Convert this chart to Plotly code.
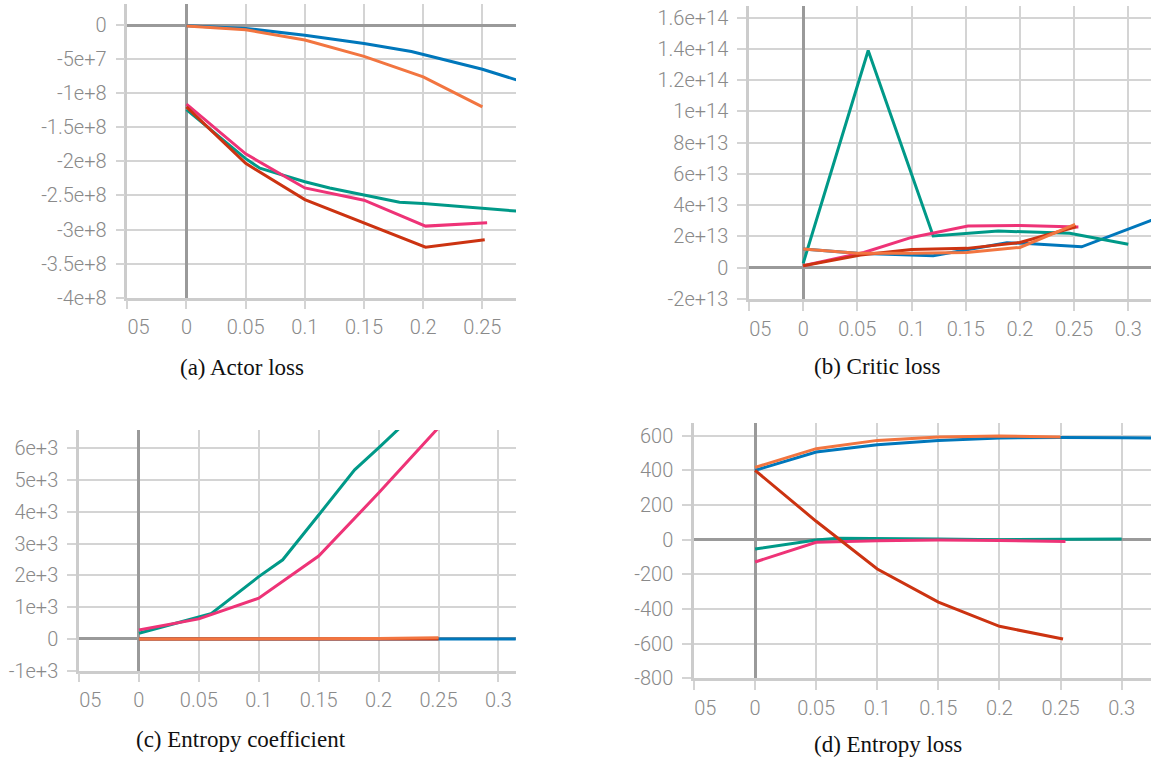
import plotly.graph_objects as go

# ---------------- data ----------------
SERIES = ["blue", "green", "pink", "red", "orange"]
COLORS = {"blue": "#0077bb", "orange": "#f27540", "green": "#009988",
          "pink": "#ee3377", "red": "#cc3311"}

# (a) Actor loss
A_BLUE_X = [0, 0.05, 0.1, 0.15, 0.19, 0.25, 0.3]
A_BLUE_Y = [-1e6, -5e6, -1.5e7, -2.7e7, -3.9e7, -6.5e7, -9.2e7]
A_ORANGE_X = [0, 0.05, 0.1, 0.15, 0.2, 0.25]
A_ORANGE_Y = [-1.5e6, -7e6, -2.2e7, -4.6e7, -7.6e7, -1.2e8]
A_GREEN_X = [0, 0.05, 0.062, 0.1, 0.121, 0.15, 0.18, 0.2, 0.25, 0.3]
A_GREEN_Y = [-1.24e8, -1.96e8, -2.1e8, -2.3e8, -2.39e8, -2.49e8, -2.6e8, -2.62e8, -2.69e8, -2.76e8]
A_PINK_X = [0, 0.05, 0.1, 0.15, 0.202, 0.254]
A_PINK_Y = [-1.16e8, -1.89e8, -2.39e8, -2.57e8, -2.95e8, -2.9e8]
A_RED_X = [0, 0.05, 0.1, 0.15, 0.202, 0.252]
A_RED_Y = [-1.2e8, -2.03e8, -2.56e8, -2.9e8, -3.26e8, -3.15e8]

# (b) Critic loss
B_BLUE_X = [0, 0.05, 0.12, 0.151, 0.188, 0.203, 0.257, 0.32, 0.35]
B_BLUE_Y = [1.2e13, 9.2e12, 7.7e12, 1.13e13, 1.6e13, 1.56e13, 1.34e13, 3.0e13, 3.8e13]
B_GREEN_X = [0, 0.06, 0.12, 0.18, 0.246, 0.3]
B_GREEN_Y = [2.8e12, 1.39e14, 2.03e13, 2.35e13, 2.2e13, 1.5e13]
B_PINK_X = [0, 0.056, 0.1, 0.152, 0.2, 0.254]
B_PINK_Y = [1.3e12, 9.8e12, 1.94e13, 2.67e13, 2.7e13, 2.6e13]
B_RED_X = [0, 0.053, 0.1, 0.151, 0.2, 0.252]
B_RED_Y = [1.3e12, 8.1e12, 1.17e13, 1.24e13, 1.62e13, 2.62e13]
B_ORANGE_X = [0, 0.05, 0.1, 0.151, 0.2, 0.251]
B_ORANGE_Y = [1.2e13, 9.2e12, 9.2e12, 9.8e12, 1.3e13, 2.77e13]

# (c) Entropy coefficient
C_BLUE_X = [0, 0.05, 0.1, 0.15, 0.2, 0.25, 0.3, 0.35]
C_BLUE_Y = [0, 0, 0, 0, 0, 0, 0, 0]
C_GREEN_X = [0, 0.06, 0.1, 0.12, 0.15, 0.18, 0.2, 0.25]
C_GREEN_Y = [180, 790, 1960, 2490, 3900, 5320, 6010, 7800]
C_PINK_X = [0, 0.05, 0.1, 0.15, 0.2, 0.25]
C_PINK_Y = [280, 630, 1280, 2610, 4590, 6650]
C_RED_X = [0, 0.05, 0.1, 0.15, 0.2, 0.25]
C_RED_Y = [0, 0, 0, 0, 0, 0]
C_ORANGE_X = [0, 0.05, 0.1, 0.15, 0.2, 0.25]
C_ORANGE_Y = [0, 0, 0, 0, 10, 40]

# (d) Entropy loss
D_BLUE_X = [0, 0.05, 0.1, 0.15, 0.2, 0.25, 0.3, 0.35]
D_BLUE_Y = [400, 506, 548, 573, 587, 590, 588, 586]
D_GREEN_X = [0, 0.05, 0.068, 0.1, 0.15, 0.2, 0.25, 0.3]
D_GREEN_Y = [-54, -2, 8, 8, 4, 0, 0, 4]
D_PINK_X = [0, 0.05, 0.1, 0.15, 0.2, 0.254]
D_PINK_Y = [-129, -15, -6, -2, -5, -10]
D_RED_X = [0, 0.05, 0.1, 0.15, 0.2, 0.252]
D_RED_Y = [400, 106, -169, -360, -500, -573]
D_ORANGE_X = [0, 0.05, 0.1, 0.15, 0.2, 0.25]
D_ORANGE_Y = [417, 525, 573, 592, 598, 592]

X_TICK_VALS = [-0.05, 0, 0.05, 0.1, 0.15, 0.2, 0.25, 0.3]
X_TICK_TEXT = ["\u2007\u200705", "0", "0.05", "0.1", "0.15", "0.2", "0.25", "0.3"]

A_Y_TICK_VALS = [0, -5e7, -1e8, -1.5e8, -2e8, -2.5e8, -3e8, -3.5e8, -4e8]
A_Y_TICK_TEXT = ["0", "-5e+7", "-1e+8", "-1.5e+8", "-2e+8", "-2.5e+8", "-3e+8", "-3.5e+8", "-4e+8"]
B_Y_TICK_VALS = [-2e13, 0, 2e13, 4e13, 6e13, 8e13, 1e14, 1.2e14, 1.4e14, 1.6e14]
B_Y_TICK_TEXT = ["-2e+13", "0", "2e+13", "4e+13", "6e+13", "8e+13", "1e+14", "1.2e+14", "1.4e+14", "1.6e+14"]
C_Y_TICK_VALS = [-1e3, 0, 1e3, 2e3, 3e3, 4e3, 5e3, 6e3]
C_Y_TICK_TEXT = ["-1e+3", "0", "1e+3", "2e+3", "3e+3", "4e+3", "5e+3", "6e+3"]
D_Y_TICK_VALS = [-800, -600, -400, -200, 0, 200, 400, 600]
D_Y_TICK_TEXT = ["-800", "-600", "-400", "-200", "0", "200", "400", "600"]

CAPTIONS = ["(a) Actor loss", "(b) Critic loss", "(c) Entropy coefficient", "(d) Entropy loss"]

# ---------------- layout helpers ----------------
W, H = 1156, 758

def px_dom_x(l, r):
    return [l / W, r / W]

def px_dom_y(top, bottom):
    return [1 - bottom / H, 1 - top / H]

GRID = "#d4d4d4"
ZERO = "#9a9a9a"
TICKFONT = dict(family="Roboto Light, Roboto", size=20, color="#8a8a8a", weight=300)

def xaxis(dom, rng, anchor):
    return dict(domain=dom, range=rng, anchor=anchor, tickmode="array",
                tickvals=X_TICK_VALS, ticktext=X_TICK_TEXT, automargin=False,
                showgrid=True, gridcolor=GRID, gridwidth=1.5,
                zeroline=True, zerolinecolor=ZERO, zerolinewidth=3,
                showline=True, linecolor="#cccccc", linewidth=2.5,
                ticks="outside", ticklen=9, tickwidth=1.5, tickcolor=GRID,
                tickfont=TICKFONT, ticklabelstandoff=1, fixedrange=True)

def yaxis(dom, rng, anchor, vals, text):
    return dict(domain=dom, range=rng, anchor=anchor, tickmode="array",
                tickvals=vals, ticktext=text, automargin=False,
                showgrid=True, gridcolor=GRID, gridwidth=1.5,
                zeroline=True, zerolinecolor=ZERO, zerolinewidth=3,
                showline=True, linecolor="#cccccc", linewidth=2.5,
                ticks="outside", ticklen=9, tickwidth=1.5, tickcolor=GRID,
                tickfont=TICKFONT, ticklabelstandoff=5, fixedrange=True)

fig = go.Figure()

panels = [
    ("x", "y", {"blue": (A_BLUE_X, A_BLUE_Y), "green": (A_GREEN_X, A_GREEN_Y),
                "pink": (A_PINK_X, A_PINK_Y), "red": (A_RED_X, A_RED_Y),
                "orange": (A_ORANGE_X, A_ORANGE_Y)}),
    ("x2", "y2", {"blue": (B_BLUE_X, B_BLUE_Y), "green": (B_GREEN_X, B_GREEN_Y),
                  "pink": (B_PINK_X, B_PINK_Y), "red": (B_RED_X, B_RED_Y),
                  "orange": (B_ORANGE_X, B_ORANGE_Y)}),
    ("x3", "y3", {"blue": (C_BLUE_X, C_BLUE_Y), "green": (C_GREEN_X, C_GREEN_Y),
                  "red": (C_RED_X, C_RED_Y), "pink": (C_PINK_X, C_PINK_Y),
                  "orange": (C_ORANGE_X, C_ORANGE_Y)}),
    ("x4", "y4", {"blue": (D_BLUE_X, D_BLUE_Y), "green": (D_GREEN_X, D_GREEN_Y),
                  "pink": (D_PINK_X, D_PINK_Y), "red": (D_RED_X, D_RED_Y),
                  "orange": (D_ORANGE_X, D_ORANGE_Y)}),
]

for xa, ya, series in panels:
    for name in SERIES:
        if name not in series:
            continue
        xs, ys = series[name]
        fig.add_trace(go.Scatter(x=xs, y=ys, mode="lines", xaxis=xa, yaxis=ya,
                                 line=dict(color=COLORS[name], width=3),
                                 showlegend=False, hoverinfo="skip"))

fig.update_layout(
    width=W, height=H, margin=dict(l=0, r=0, t=0, b=0, autoexpand=False),
    paper_bgcolor="white", plot_bgcolor="white", showlegend=False,
    xaxis=xaxis(px_dom_x(127.3, 516), [-0.05, 0.2784], "y"),
    yaxis=yaxis(px_dom_y(4, 297.7), [-4e8, 3.08e7], "x", A_Y_TICK_VALS, A_Y_TICK_TEXT),
    xaxis2=xaxis(px_dom_x(749, 1151), [-0.05, 0.321], "y2"),
    yaxis2=yaxis(px_dom_y(6, 299), [-2e13, 1.675e14], "x2", B_Y_TICK_VALS, B_Y_TICK_TEXT),
    xaxis3=xaxis(px_dom_x(79, 515.7), [-0.05, 0.3144], "y3"),
    yaxis3=yaxis(px_dom_y(430, 670.7), [-1000, 6575], "x3", C_Y_TICK_VALS, C_Y_TICK_TEXT),
    xaxis4=xaxis(px_dom_x(694, 1151), [-0.05, 0.324], "y4"),
    yaxis4=yaxis(px_dom_y(422.7, 678.3), [-800, 675], "x4", D_Y_TICK_VALS, D_Y_TICK_TEXT),
)

CAPTION_POS = [(242, 367), (877.5, 366), (241, 739), (888, 744)]
for text, (cx, cy) in zip(CAPTIONS, CAPTION_POS):
    fig.add_annotation(text=text, x=cx / W, y=1 - cy / H, xref="paper", yref="paper",
                       showarrow=False, xanchor="center", yanchor="middle",
                       font=dict(family="Liberation Serif", size=23, color="#111111"))

fig.write_html("out.html", config={"displayModeBar": False},
               post_script="document.body.style.margin='0';document.body.style.overflow='hidden';")
